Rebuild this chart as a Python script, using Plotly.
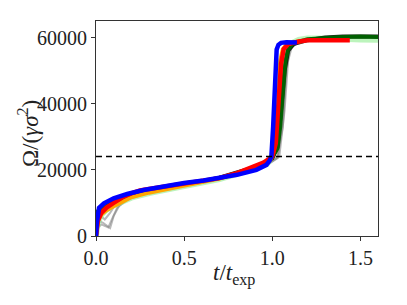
import plotly.graph_objects as go

# ---- data ----
grey1_t = [0, 0.01, 0.03, 0.05, 0.07, 0.09, 0.12, 0.16, 0.2, 0.3, 0.5, 0.7, 0.9, 0.98, 1.03, 1.06, 1.08, 1.1, 1.13]
grey1_y = [0, 2500, 3500, 3000, 2600, 5000, 8500, 10500, 11800, 13400, 15300, 17300, 20000, 21800, 23500, 35000, 52000, 57000, 58000]
grey2_t = [0, 0.02, 0.04, 0.06, 0.08, 0.1, 0.13, 0.18, 0.3, 0.5, 0.7, 0.9, 0.98, 1.04, 1.07, 1.09, 1.11, 1.14]
grey2_y = [0, 4500, 4000, 3200, 2400, 6000, 9000, 11000, 13200, 15200, 17200, 20100, 21900, 24000, 38000, 53000, 57000, 58200]
grey3_t = [0, 0.015, 0.03, 0.05, 0.08, 0.11, 0.15, 0.2, 0.3, 0.5, 0.7, 0.9, 0.98, 1.03, 1.06, 1.08, 1.1, 1.13]
grey3_y = [0, 5500, 6000, 5000, 7000, 9500, 10800, 11900, 13300, 15400, 17400, 20300, 22000, 24200, 33000, 50000, 56500, 58000]

lgreen_t = [0, 0.01, 0.03, 0.06, 0.1, 0.15, 0.2, 0.3, 0.4, 0.5, 0.6, 0.7, 0.8, 0.9, 0.97, 1.0, 1.03, 1.05, 1.07, 1.1, 1.15, 1.2, 1.3, 1.4, 1.5, 1.6]
lgreen_y = [0, 4000, 6500, 8000, 9300, 10600, 11600, 13000, 14000, 15000, 16000, 17200, 18800, 20300, 21800, 24000, 32000, 45000, 54000, 58000, 59300, 59700, 59800, 59600, 59400, 59300]

black_t = [0, 0.01, 0.03, 0.06, 0.1, 0.15, 0.2, 0.3, 0.4, 0.5, 0.6, 0.7, 0.8, 0.9, 0.96, 1.0, 1.03, 1.05, 1.07, 1.09, 1.12, 1.2, 1.3, 1.4, 1.5, 1.6]
black_y = [0, 5000, 7000, 8500, 9800, 11200, 12300, 13600, 14700, 15600, 16500, 17600, 19200, 20600, 21600, 23500, 27000, 38000, 50000, 56000, 58000, 59200, 60000, 60300, 60400, 60300]

dgreen_t = [0, 0.005, 0.01, 0.03, 0.06, 0.1, 0.15, 0.2, 0.3, 0.4, 0.5, 0.6, 0.7, 0.8, 0.9, 0.96, 1.0, 1.03, 1.045, 1.06, 1.075, 1.09, 1.12, 1.2, 1.3, 1.4, 1.5, 1.6]
dgreen_y = [0, 7000, 7500, 8200, 9200, 10400, 11400, 12300, 13600, 14600, 15500, 16400, 17500, 19000, 20500, 21600, 23800, 26500, 33000, 45000, 53000, 56500, 58300, 59500, 60000, 60200, 60300, 60200]

orange_t = [0, 0.01, 0.03, 0.06, 0.1, 0.15, 0.2, 0.3, 0.4, 0.5, 0.6, 0.7, 0.8, 0.9, 0.96, 0.99, 1.01, 1.025, 1.035, 1.045, 1.06, 1.08, 1.12, 1.18]
orange_y = [0, 4500, 6500, 7800, 9000, 10500, 11700, 13100, 14200, 15200, 16300, 17400, 18900, 20400, 21500, 23000, 26000, 36000, 46000, 53000, 56500, 57800, 58600, 59000]

red_t = [0, 0.01, 0.03, 0.06, 0.1, 0.15, 0.2, 0.25, 0.3, 0.4, 0.5, 0.6, 0.7, 0.8, 0.9, 0.95, 0.98, 1.0, 1.02, 1.03, 1.04, 1.05, 1.065, 1.09, 1.15, 1.2, 1.3, 1.44]
red_y = [0, 4500, 7000, 8600, 10000, 11700, 12900, 13800, 14200, 15000, 15700, 16500, 17500, 19000, 21000, 22200, 23200, 24000, 28000, 36000, 45000, 52000, 56500, 58000, 58800, 59200, 59200, 59200]

blue_t = [0, 0.005, 0.017, 0.045, 0.1, 0.177, 0.27, 0.42, 0.5, 0.61, 0.7, 0.8, 0.91, 0.967, 0.985, 0.995, 1.005, 1.014, 1.02, 1.025, 1.035, 1.05, 1.08, 1.14]
blue_y = [0, 4000, 8500, 9900, 11400, 12700, 13900, 15450, 16000, 16760, 17500, 18500, 20000, 21500, 22800, 24000, 33000, 42200, 52000, 56400, 57800, 58400, 58600, 58500]

threshold = 24000
x_ticks = [0.0, 0.5, 1.0, 1.5]
x_tick_labels = ["0.0", "0.5", "1.0", "1.5"]
y_ticks = [0, 20000, 40000, 60000]
y_tick_labels = ["0", "20000", "40000", "60000"]
x_title = "<i>t</i>/<i>t</i><sub>exp</sub>"
y_title = "Ω/(<i>γσ</i><sup>2</sup>)"

fig = go.Figure()

def add(t, y, color, width, opacity=1.0):
    fig.add_trace(go.Scatter(x=t, y=y, mode="lines", opacity=opacity,
                             line=dict(color=color, width=width), showlegend=False,
                             hoverinfo="skip"))

for gt, gy in [(grey1_t, grey1_y), (grey2_t, grey2_y), (grey3_t, grey3_y)]:
    add(gt, gy, "gray", 2, 0.55)
add(lgreen_t, lgreen_y, "lightgreen", 6, 0.6)
add(black_t, black_y, "black", 4, 0.85)
add(dgreen_t, dgreen_y, "darkgreen", 4, 0.95)
add(orange_t, orange_y, "orange", 4)
add(red_t, red_y, "red", 4.5)
add(blue_t, blue_y, "blue", 4.5)

fig.add_trace(go.Scatter(x=[0, 1.6], y=[threshold, threshold], mode="lines",
                         line=dict(color="black", width=1.5, dash="6px,4px"),
                         showlegend=False, hoverinfo="skip"))

# the page body adds an 8px margin, so the figure is sized/offset to compensate
font = "Liberation Serif"
fig.update_layout(
    width=399, height=297,
    margin=dict(l=88, r=29, t=13, b=69),
    paper_bgcolor="white", plot_bgcolor="white",
    font=dict(family=font, size=20, color="#222"),
    xaxis=dict(range=[0, 1.6], tickvals=x_ticks, ticktext=x_tick_labels,
               automargin=False,
               showgrid=False, zeroline=False, showline=True, mirror=True,
               linecolor="#333", linewidth=1, ticks="outside", ticklen=4,
               tickcolor="#333"),
    yaxis=dict(range=[0, 65000], tickvals=y_ticks, ticktext=y_tick_labels,
               automargin=False,
               showgrid=False, zeroline=False, showline=True, mirror=True,
               linecolor="#333", linewidth=1, ticks="outside", ticklen=4,
               tickcolor="#333"),
    annotations=[
        dict(text=x_title, xref="paper", yref="paper", x=0.49, y=0,
             yshift=-38, xanchor="center", yanchor="middle", showarrow=False,
             font=dict(family=font, size=23, color="#222")),
        dict(text=y_title, xref="paper", yref="paper", x=0, y=0.474,
             xshift=-68, xanchor="center", yanchor="middle", textangle=-90,
             showarrow=False, font=dict(family=font, size=23, color="#222")),
    ],
)

fig.write_html("out.html")
